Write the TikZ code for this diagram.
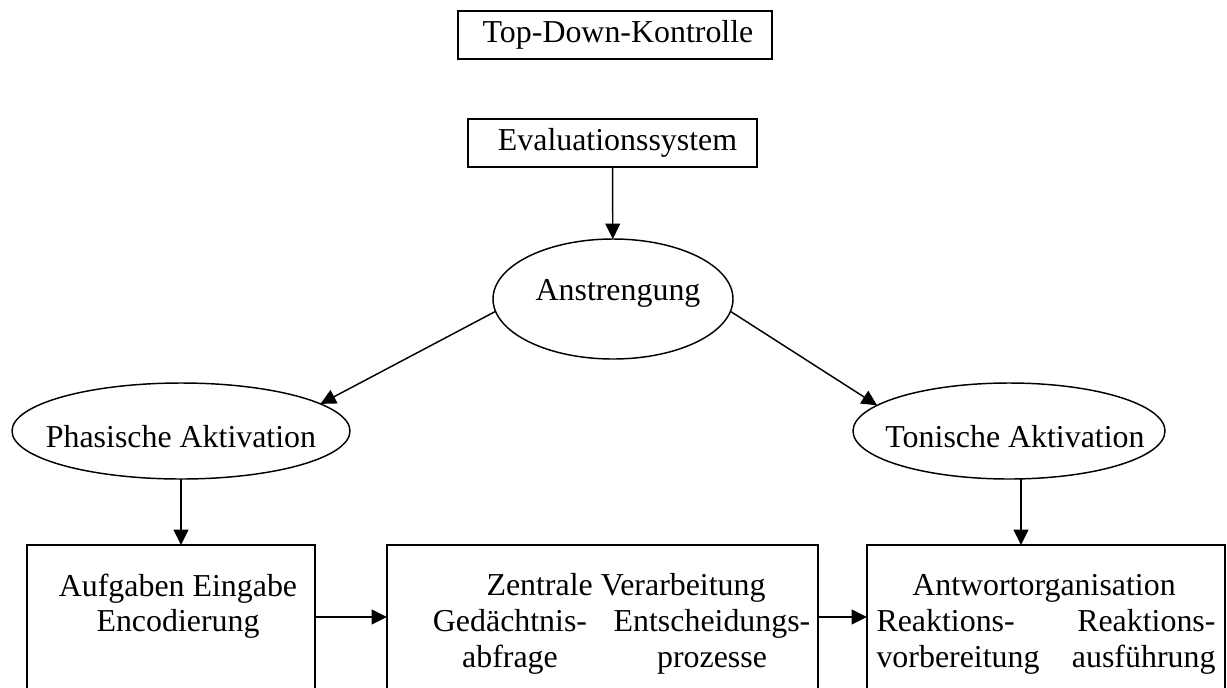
\documentclass[tikz,border=0pt]{standalone}
\usepackage{fontspec}
\setmainfont{Liberation Serif}
\usetikzlibrary{positioning,shapes.geometric,arrows.meta}
\tikzset{>={Triangle[length=5.8pt,width=5.6pt]}}
\newlength\px
\setlength\px{0.3762pt}
\tikzset{
  kasten/.style={draw,line width=0.55pt,inner sep=0pt,outer sep=0pt},
  oval/.style={draw,ellipse,line width=0.55pt,inner sep=0pt,outer sep=0pt},
  pfeil/.style={->,line width=0.55pt},
  txt/.style={inner sep=0pt,align=center}
}

\begin{document}
\begin{tikzpicture}[x=\px,y=-\px,every node/.style={font=\fontsize{12}{13.5}\selectfont}]
\useasboundingbox (0,0) rectangle (1227,687);
\clip (0,0) rectangle (1227,687);
% oben
\node[kasten,minimum width=314*\px,minimum height=48*\px] (top) at (615,35) {\hspace{6\px}Top-Down-Kontrolle};
\node[kasten,minimum width=289*\px,minimum height=48*\px] (eval) at (612.5,143) {\hspace{10\px}Evaluationssystem};
% Ellipsen
\node[oval,minimum width=240*\px,minimum height=120*\px,
  label={[name=anstrtxt,xshift=5*\px,yshift=6*\px]center:Anstrengung}] (anstr) at (613,299) {};
\node[oval,minimum width=338*\px,minimum height=96*\px,
  label={[name=phastxt,yshift=-6*\px]center:Phasische Aktivation}] (phas) at (181,431) {};
\node[oval,minimum width=312*\px,minimum height=96*\px,
  label={[name=tontxt,xshift=6*\px,yshift=-6*\px]center:Tonische Aktivation}] (ton) at (1009,431) {};
% Kaesten unten (unten abgeschnitten)
\node[kasten,anchor=north west,minimum width=288*\px,minimum height=200*\px] (aufg) at (27,545) {};
\node[kasten,anchor=north west,minimum width=431*\px,minimum height=200*\px] (zentr) at (387,545) {};
\node[kasten,anchor=north west,minimum width=358*\px,minimum height=200*\px] (antw) at (867,545) {};
\node[txt,anchor=north] (aufgtxt) at (178,573) {Aufgaben Eingabe\\Encodierung};
\node[txt,anchor=base] (zentrtxt) at (626,595) {Zentrale Verarbeitung};
\node[txt,anchor=north] (gedtxt) at (510,609) {Gedächtnis-\\abfrage};
\node[txt,anchor=north] (enttxt) at (712,609) {Entscheidungs-\\prozesse};
\node[txt,anchor=base] (antwtxt) at (1044,595) {Antwortorganisation};
\node[txt,align=left,anchor=north west] (vorbtxt) at (876,609) {Reaktions-\\vorbereitung};
\node[txt,align=right,anchor=north east] (ausftxt) at (1216,609) {Reaktions-\\ausführung};
% Pfeile
\draw[pfeil] (eval) -- (anstr);
\draw[pfeil] (anstr.186) -- (phas.11);
\draw[pfeil] (anstr.354) -- (ton.169);
\draw[pfeil] (phas.south) -- (phas.south |- aufg.north);
\draw[pfeil] ([xshift=12*\px]ton.south) -- ([xshift=12*\px]ton.south |- antw.north);
\draw[pfeil] ([yshift=-72*\px]aufg.north east) -- ([yshift=-72*\px]zentr.north west);
\draw[pfeil] ([yshift=-72*\px]zentr.north east) -- ([yshift=-72*\px]antw.north west);
\end{tikzpicture}
\end{document}
